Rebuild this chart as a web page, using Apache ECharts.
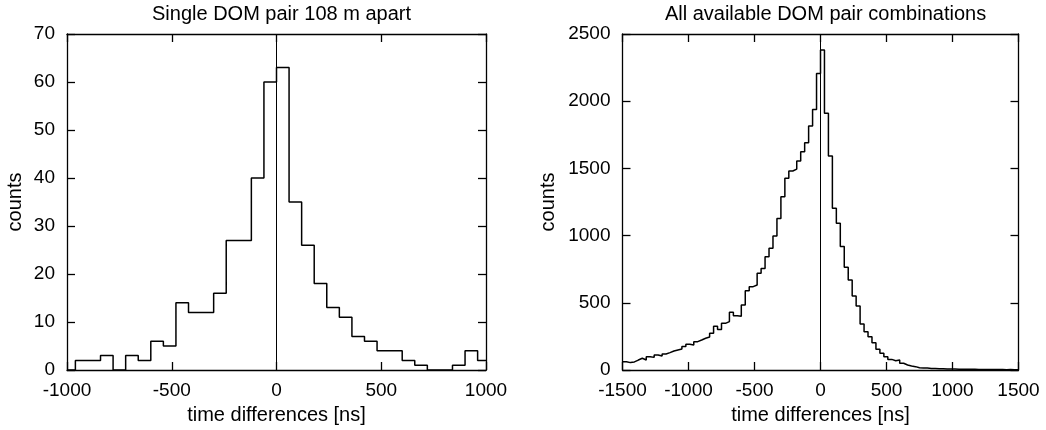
<!DOCTYPE html>
<html>
<head>
<meta charset="utf-8">
<script src="https://cdn.jsdelivr.net/npm/echarts@6/dist/echarts.min.js"></script>
<style>
html,body{margin:0;padding:0;background:#fff;}
#chart{width:1046px;height:430px;}
</style>
</head>
<body>
<div id="chart"></div>
<script>
// ---- Left panel: single DOM pair, 60 ns bins ----
const leftTitle = "Single DOM pair 108 m apart";
const leftBinEdges = [-1000, -960, -900, -840, -780, -720, -660, -600, -540, -480, -420, -360, -300, -240, -180, -120, -60,
  0, 60, 120, 180, 240, 300, 360, 420, 480, 540, 600, 660, 720, 780, 840, 900, 960, 1000];
const leftCounts = [0, 2, 2, 3, 0, 3, 2, 6, 5, 14, 12, 12, 16, 27, 27, 40, 60,
  63, 35, 26, 18, 13, 11, 7, 6, 4, 4, 2, 1, 0, 0, 1, 4, 2];

// ---- Right panel: all DOM pair combinations, 30 ns bins ----
const rightTitle = "All available DOM pair combinations";
const rightBinEdges = [
  -1500,-1470,-1440,-1410,-1380,-1350,-1320,-1290,-1260,-1230,
  -1200,-1170,-1140,-1110,-1080,-1050,-1020,-990,-960,-930,
  -900,-870,-840,-810,-780,-750,-720,-690,-660,-630,
  -600,-570,-540,-510,-480,-450,-420,-390,-360,-330,
  -300,-270,-240,-210,-180,-150,-120,-90,-60,-30,
  0,30,60,90,120,150,180,210,240,270,
  300,330,360,390,420,450,480,510,540,570,
  600,630,660,690,720,750,780,810,840,870,
  900,930,960,990,1020,1050,1080,1110,1140,1170,
  1200,1230,1260,1290,1320,1350,1380,1410,1440,1470,
  1500];
const rightCounts = [
  62, 55, 60, 74, 87, 74, 99, 94, 112, 104,
  119, 129, 141, 149, 156, 174, 191, 186, 211, 223,
  236, 245, 273, 325, 302, 347, 360, 429, 404, 400,
  484, 590, 620, 632, 719, 756, 843, 905, 997, 1128,
  1289, 1426, 1481, 1495, 1555, 1624, 1691, 1815, 1939, 2207,
  2381, 1910, 1592, 1203, 1091, 918, 764, 670, 551, 476,
  342, 285, 248, 203, 154, 124, 99, 79, 69, 74,
  50, 37, 30, 25, 17, 15, 14, 12, 11, 10,
  9, 8, 7, 7, 6, 6, 5, 5, 5, 4,
  4, 4, 3, 3, 3, 3, 2, 3, 2, 2];

// axis ranges / ticks
const leftX = {min: -1000, max: 1000, interval: 500};
const leftY = {min: 0, max: 70, interval: 10};
const rightX = {min: -1500, max: 1500, interval: 500};
const rightY = {min: 0, max: 2500, interval: 500};
const xName = "time differences [ns]";
const yName = "counts";

function stepData(edges, counts) {
  const d = [];
  for (let i = 0; i < counts.length; i++) d.push([edges[i], counts[i]]);
  d.push([edges[edges.length - 1], counts[counts.length - 1]]);
  return d;
}

const FONT = "Liberation Sans";
const lineCol = '#000';
function axisCommon(r, showLabel, pos, gi, name, nameGap, isY) {
  return {
    type: 'value', gridIndex: gi, position: pos,
    min: r.min, max: r.max, interval: r.interval,
    name: name || '', nameLocation: 'middle', nameGap: nameGap || 0,
    nameTextStyle: {color: '#000', fontFamily: FONT, fontSize: 20},
    axisLine: {show: true, onZero: false, lineStyle: {color: lineCol, width: 1.3}},
    axisTick: {show: true, inside: true, length: 8, lineStyle: {color: lineCol, width: 1.3}},
    axisLabel: {show: showLabel, color: '#000', fontFamily: FONT, fontSize: 19, margin: isY ? 12 : 11,
      formatter: function (v) { return String(v); }},
    splitLine: {show: false}
  };
}

const grids = [
  {left: 67, top: 34, width: 419, height: 336},
  {left: 622.5, top: 34, width: 396, height: 336}
];

const option = {
  backgroundColor: '#fff',
  animation: false,
  title: [
    {text: leftTitle, left: 67 + 419 / 2, textAlign: 'center', top: -1,
      textStyle: {fontFamily: FONT, fontSize: 20, fontWeight: 'normal', color: '#000'}},
    {text: rightTitle, left: 622.5 + 396 / 2, textAlign: 'center', top: -1,
      textStyle: {fontFamily: FONT, fontSize: 20, fontWeight: 'normal', color: '#000'}}
  ],
  grid: grids,
  xAxis: [
    axisCommon(leftX, true, 'bottom', 0, xName, 35, false),
    axisCommon(leftX, false, 'top', 0, '', 0, false),
    axisCommon(rightX, true, 'bottom', 1, xName, 35, false),
    axisCommon(rightX, false, 'top', 1, '', 0, false)
  ],
  yAxis: [
    axisCommon(leftY, true, 'left', 0, yName, 42, true),
    axisCommon(leftY, false, 'right', 0, '', 0, true),
    axisCommon(rightY, true, 'left', 1, yName, 64, true),
    axisCommon(rightY, false, 'right', 1, '', 0, true)
  ],
  series: [
    {
      type: 'line', xAxisIndex: 0, yAxisIndex: 0, step: 'end', symbol: 'none',
      data: stepData(leftBinEdges, leftCounts),
      lineStyle: {color: '#000', width: 1.5},
      markLine: {silent: true, symbol: 'none', label: {show: false},
        lineStyle: {color: '#000', width: 1, type: 'solid'}, data: [{xAxis: 0}]}
    },
    {
      type: 'line', xAxisIndex: 2, yAxisIndex: 2, step: 'end', symbol: 'none',
      data: stepData(rightBinEdges, rightCounts),
      lineStyle: {color: '#000', width: 1.5},
      markLine: {silent: true, symbol: 'none', label: {show: false},
        lineStyle: {color: '#000', width: 1, type: 'solid'}, data: [{xAxis: 0}]}
    }
  ]
};

const chart = echarts.init(document.getElementById('chart'), null, {renderer: 'canvas'});
chart.setOption(option);
</script>
</body>
</html>
